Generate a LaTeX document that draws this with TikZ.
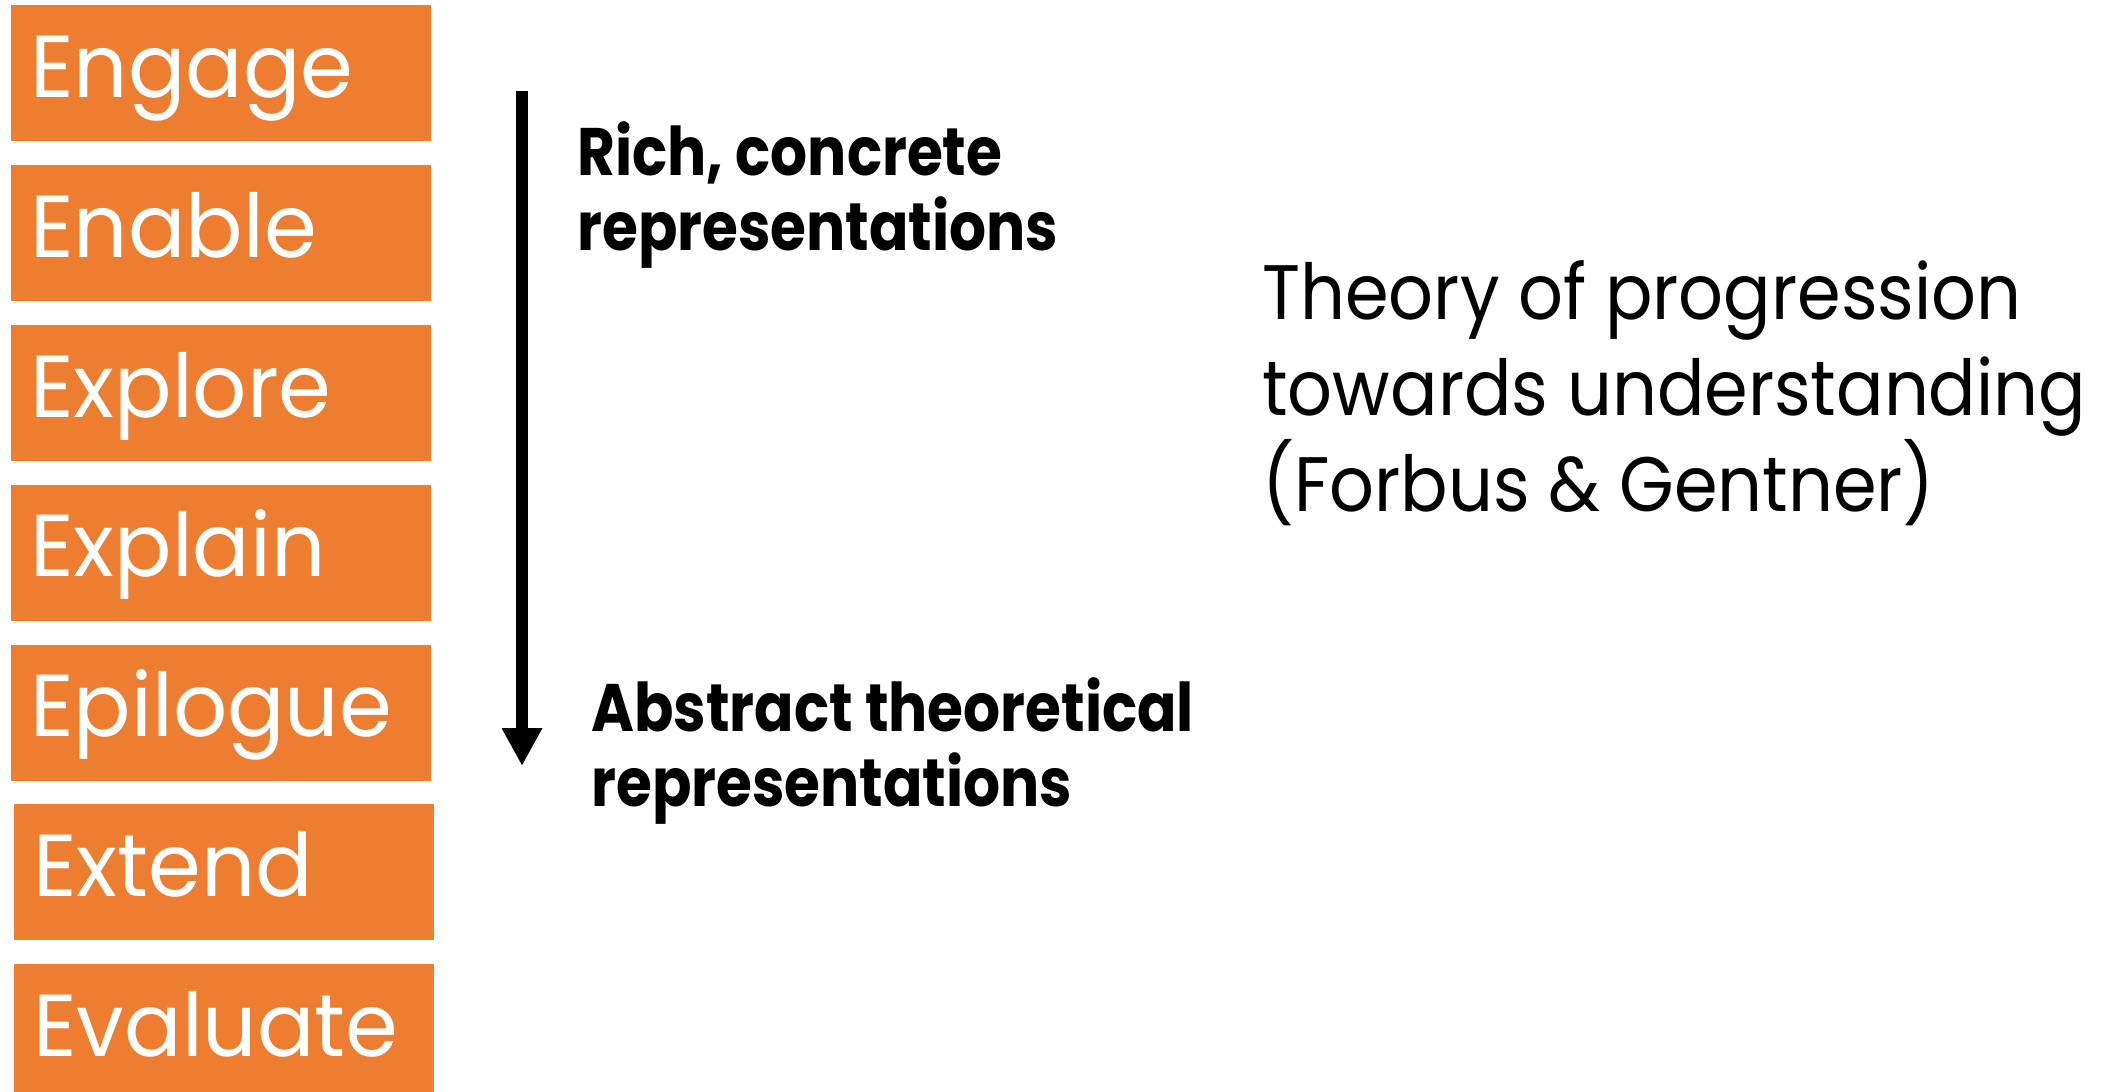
\documentclass[tikz,border=0pt]{standalone}
\usepackage{fontspec}
\setmainfont{Poppins}
\newfontfamily\phasefont{Poppins}[FakeStretch=0.965]
\newfontfamily\repfont{Poppins}[FakeStretch=0.865]
\newfontfamily\theoryfont{Poppins}[FakeStretch=0.91]
\usetikzlibrary{arrows.meta, positioning}
\definecolor{phaseorange}{HTML}{ED7D31}

\begin{document}
\begin{tikzpicture}[x=0.5pt, y=-0.5pt, node distance=11.5pt, >={Triangle[length=19pt, width=19pt]},
    phase/.style={fill=phaseorange, text=white, inner xsep=9.5pt, inner ysep=0pt,
      text width=191pt, text height=46pt, text depth=22pt, align=left,
      font=\phasefont\fontsize{44pt}{50pt}\selectfont},
    repnote/.style={inner sep=0pt, align=left, font=\repfont\bfseries\fontsize{33.6pt}{37.5pt}\selectfont},
    theorynote/.style={inner sep=0pt, align=left, font=\theoryfont\fontsize{38.6pt}{48pt}\selectfont}]
    \useasboundingbox (0,0) rectangle (2123,1091);

    % the seven phases
    \node [phase, anchor=north west] (engage) at (11,5) {Engage};
    \node [phase, below=of engage] (enable) {Enable};
    \node [phase, below=of enable] (explore) {Explore};
    \node [phase, below=of explore] (explain) {Explain};
    \node [phase, below=of explain] (epilogue) {Epilogue};
    \node [phase, below=of epilogue, xshift=1.5pt] (extend) {Extend};
    \node [phase, below=of extend] (evaluate) {Evaluate};

    % concrete -> abstract
    \coordinate (arrowtop) at (522,91);
    \coordinate (arrowtip) at (522,766);
    \draw [->, line width=6pt] (arrowtop) -- (arrowtip);

    \node [repnote, anchor=north west] (concrete) at (577,121) {Rich, concrete\\representations};
    \node [repnote, anchor=north west] (abstract) at (591,677) {Abstract theoretical\\representations};

    \node [theorynote, anchor=north west] (theory) at (1262,260) {Theory of progression\\towards understanding\\(Forbus \& Gentner)};
\end{tikzpicture}
\end{document}
